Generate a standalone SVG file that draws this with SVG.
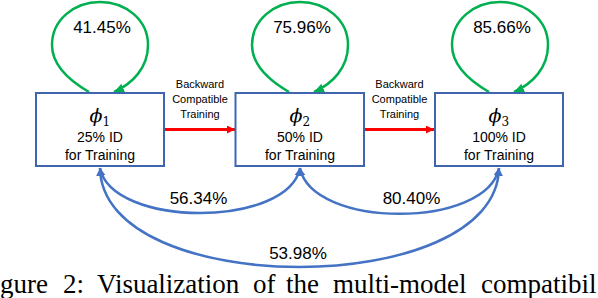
<svg xmlns="http://www.w3.org/2000/svg" width="598" height="298" viewBox="0 0 598 298">
<style>
.box{fill:#ffffff;stroke:#3F65AE;stroke-width:2}
.sans{font-family:"Liberation Sans",Arial,sans-serif;fill:#000}
.pct{font-size:17px;text-anchor:middle}
.inner{font-size:14px;text-anchor:middle}
.small{font-size:11px;text-anchor:middle}
.phi{font-family:"DejaVu Serif",serif;font-style:italic;font-size:19px;fill:#000}
.sub{font-family:"DejaVu Serif",serif;font-style:normal;font-size:12px}
.loop{fill:none;stroke:#00B050;stroke-width:2.5}
.comp{fill:none;stroke:#4472C4;stroke-width:2.5}
.bct{fill:none;stroke:#FF0000;stroke-width:3}
.cap{font-family:"Liberation Serif","Times New Roman",serif;font-size:27px;fill:#000}
</style>
<defs>
<marker id="ga" markerUnits="userSpaceOnUse" markerWidth="11" markerHeight="9" refX="10" refY="4.5" orient="auto"><path d="M0,0 L10,4.5 L0,9 z" fill="#00B050"/></marker>
<marker id="ba" markerUnits="userSpaceOnUse" markerWidth="9" markerHeight="8" refX="8" refY="4" orient="auto-start-reverse"><path d="M0,0 L8,4 L0,8 z" fill="#4472C4"/></marker>
<marker id="ra" markerUnits="userSpaceOnUse" markerWidth="9" markerHeight="8" refX="8" refY="4" orient="auto"><path d="M0,0 L8,4 L0,8 z" fill="#FF0000"/></marker>
</defs>

<g id="connectors">
<path class="loop" marker-end="url(#ga)" d="M89,92 C70,81 52,66 52,45 C52,20 74,2 100,2 C126,2 148,20 148,45 C148,68 132,84 114,92"/>
<path class="loop" marker-end="url(#ga)" d="M289,92 C270,81 252,66 252,45 C252,20 274,2 300,2 C326,2 348,20 348,45 C348,68 332,84 314,92"/>
<path class="loop" marker-end="url(#ga)" d="M489,92 C470,81 452,66 452,45 C452,20 474,2 500,2 C526,2 548,20 548,45 C548,68 532,84 514,92"/>
<path class="bct" marker-end="url(#ra)" d="M165,129.5 L235,129.5"/>
<path class="bct" marker-end="url(#ra)" d="M365,129.5 L434,129.5"/>
<path class="comp" marker-start="url(#ba)" marker-end="url(#ba)" d="M100,168 C112,228 288,228 300,168"/>
<path class="comp" marker-start="url(#ba)" marker-end="url(#ba)" d="M300,168 C312,229 487,229 499,168"/>
<path class="comp" marker-start="url(#ba)" marker-end="url(#ba)" d="M100,168 C102,300 497,300 499,168"/>
<text class="sans small" x="200" y="88.3">Backward</text>
<text class="sans small" x="200" y="103.3">Compatible</text>
<text class="sans small" x="200" y="118.3">Training</text>
<text class="sans small" x="399.5" y="88.3">Backward</text>
<text class="sans small" x="399.5" y="103.3">Compatible</text>
<text class="sans small" x="399.5" y="118.3">Training</text>
<text class="sans pct" x="102" y="32.5">41.45%</text>
<text class="sans pct" x="302" y="32.5">75.96%</text>
<text class="sans pct" x="502" y="32.5">85.66%</text>
<text class="sans pct" x="198.5" y="204">56.34%</text>
<text class="sans pct" x="411.5" y="204">80.40%</text>
<text class="sans pct" x="298" y="259">53.98%</text>
</g>

<g id="phi1">
<rect class="box" x="36" y="93" width="128" height="73"/>
<text class="phi" x="89.5" y="122">ϕ<tspan class="sub" dy="3.5">1</tspan></text>
<text class="sans inner" x="100" y="141.5">25% ID</text>
<text class="sans inner" x="100" y="160">for Training</text>
</g>
<g id="phi2">
<rect class="box" x="235.5" y="93" width="128.5" height="73"/>
<text class="phi" x="289.5" y="122">ϕ<tspan class="sub" dy="3.5">2</tspan></text>
<text class="sans inner" x="300" y="141.5">50% ID</text>
<text class="sans inner" x="300" y="160">for Training</text>
</g>
<g id="phi3">
<rect class="box" x="435" y="93" width="128" height="73"/>
<text class="phi" x="488.5" y="122">ϕ<tspan class="sub" dy="3.5">3</tspan></text>
<text class="sans inner" x="499" y="141.5">100% ID</text>
<text class="sans inner" x="499" y="160">for Training</text>
</g>

<g id="caption">
<text class="cap" x="0" y="293">gure</text>
<text class="cap" x="63" y="293">2:</text>
<text class="cap" x="97" y="293">Visualization</text>
<text class="cap" x="253" y="293">of</text>
<text class="cap" x="286" y="293">the</text>
<text class="cap" x="333" y="293">multi-model</text>
<text class="cap" x="481" y="293">compatibil</text>
</g>
</svg>
